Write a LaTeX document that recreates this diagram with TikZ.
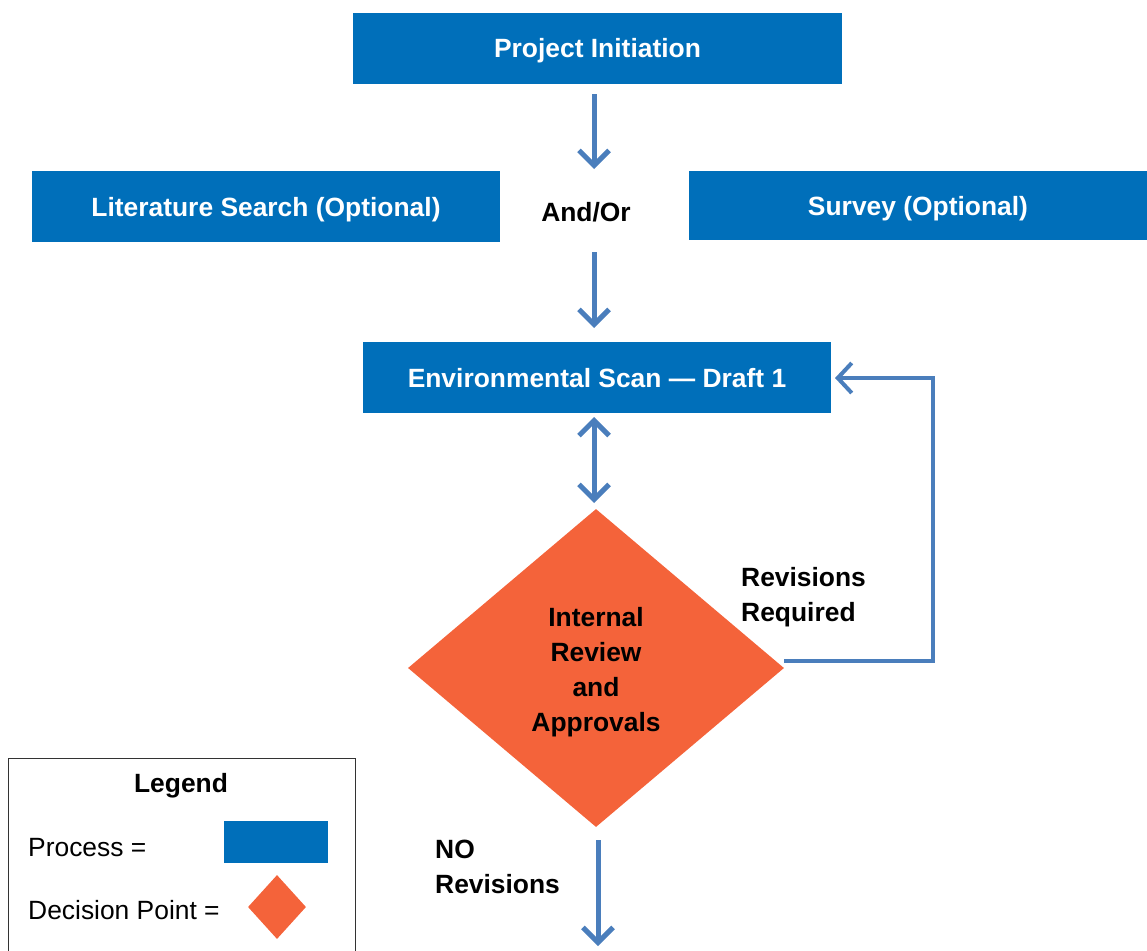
\documentclass[tikz,border=0pt]{standalone}
\usepackage{fontspec}
\setmainfont{Liberation Sans}
\usetikzlibrary{arrows.meta,shapes.geometric}
\definecolor{procblue}{RGB}{0,111,186}
\definecolor{arrowblue}{RGB}{74,126,188}
\definecolor{decorange}{RGB}{244,99,58}
\tikzset{
  process/.style={fill=procblue, text=white, font=\fontsize{26.4}{31}\selectfont\bfseries, inner sep=0pt, text height=19pt, text depth=0pt, anchor=center},
  decision/.style={diamond, fill=decorange, inner sep=0pt, font=\fontsize{26.4}{35}\selectfont\bfseries, align=center, aspect=1.18},
  flow/.style={draw=arrowblue, line width=5pt, -{Straight Barb[length=15pt, width=30pt, line width=5pt]}},
  twoway/.style={draw=arrowblue, line width=5pt, {Straight Barb[length=15pt, width=30pt, line width=5pt]}-{Straight Barb[length=15pt, width=30pt, line width=5pt]}},
  loopline/.style={draw=arrowblue, line width=4pt, -{Straight Barb[length=14pt, width=30pt, line width=4pt]}},
  lbl/.style={font=\fontsize{26.4}{35}\selectfont\bfseries, align=left, inner sep=0pt},
  plain/.style={font=\fontsize{26.4}{31}\selectfont, inner sep=0pt}
}
\begin{document}
\begin{tikzpicture}[x=1pt, y=-1pt]
\useasboundingbox (0,0) rectangle (1147,950);
\clip (0,0) rectangle (1147,950);

% process boxes
\node[process, minimum width=489pt, minimum height=71pt] (init) at (597.5,48.5) {Project Initiation};
\node[process, minimum width=468pt, minimum height=71pt] (lit) at (266,206.5) {Literature Search (Optional)};
\node[process, minimum width=458pt, minimum height=69pt] (survey) at (918,205.5) {Survey (Optional)};
\node[lbl] (andor) at (586,212) {And/Or};
\node[process, minimum width=468pt, minimum height=71pt] (scan) at (597,377.5) {Environmental Scan — Draft 1};

% decision
\node[decision, minimum width=376pt, minimum height=318pt] (review) at (596,668) {};
\node[lbl, align=center] (reviewtext) at (596,672) {Internal\\Review\\and\\Approvals};

% connector end points
\coordinate (a1s) at (594,94);
\coordinate (a1e) at (594,169);
\coordinate (a2s) at (594,252);
\coordinate (a2e) at (594,328);
\coordinate (a3s) at (594,417);
\coordinate (a3e) at (594,503);
\coordinate (loopcorner) at (933,661);
\coordinate (looptop) at (933,378);
\coordinate (loopend) at (835,378);
\coordinate (outs) at (598,840);
\coordinate (oute) at (598,946);

\draw[flow] (a1s) -- (a1e);
\draw[flow] (a2s) -- (a2e);
\draw[twoway] (a3s) -- (a3e);
\draw[loopline] (review.east |- loopcorner) -- (loopcorner) -- (looptop) -- (loopend);
\draw[flow] (outs) -- (oute);

\node[lbl, anchor=west] (revreq) at (741,597.5) {Revisions\\Required};
\node[lbl, anchor=west] (norev) at (435,866.5) {NO\\Revisions};

% legend
\draw[draw=black!80, line width=1pt] (8,758) rectangle (355,1000);
\node[lbl] (legtitle) at (181,786) {Legend};
\node[plain, anchor=west] (legproc) at (28,848) {Process =};
\node[fill=procblue, minimum width=104pt, minimum height=42pt, inner sep=0pt] (legbox) at (276,842) {};
\node[plain, anchor=west] (legdec) at (28,910) {Decision Point =};
\node[diamond, fill=decorange, inner sep=0pt, minimum width=58pt, minimum height=64pt, aspect=0.9] (legdia) at (277,907) {};
\end{tikzpicture}
\end{document}
